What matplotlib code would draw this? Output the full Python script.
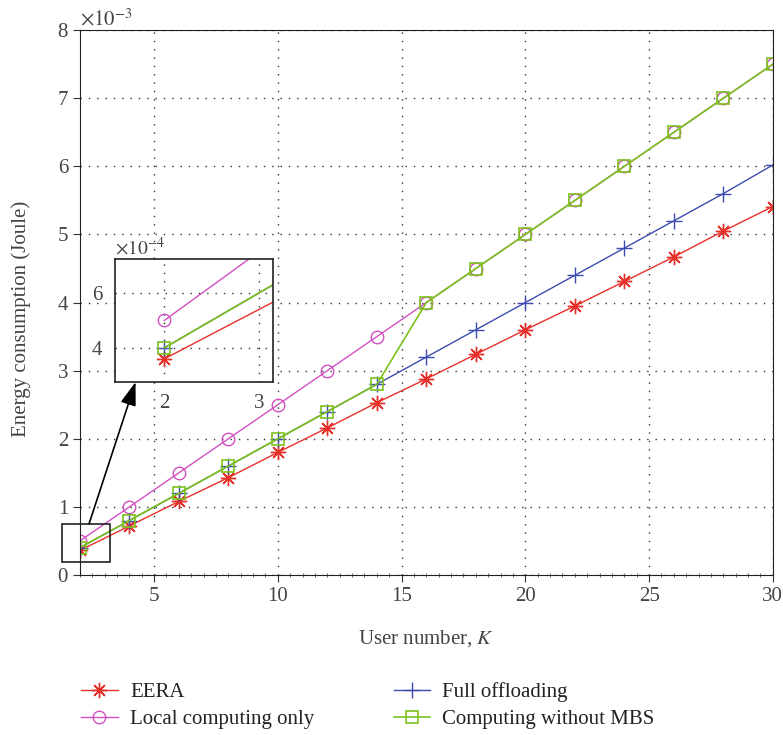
import numpy as np
import matplotlib.pyplot as plt
from matplotlib.patches import Rectangle, ConnectionPatch
from matplotlib.ticker import MultipleLocator

plt.rcParams['font.family'] = ['Liberation Serif', 'DejaVu Serif']
plt.rcParams['mathtext.fontset'] = 'stix'

K = [2, 4, 6, 8, 10, 12, 14, 16, 18, 20, 22, 24, 26, 28, 30]
eera = [0.36, 0.72, 1.08, 1.43, 1.80, 2.16, 2.53, 2.88, 3.24, 3.60, 3.95, 4.31, 4.67, 5.05, 5.41]
local = [0.50, 1.00, 1.50, 2.00, 2.50, 3.00, 3.50, 4.00, 4.50, 5.00, 5.50, 6.00, 6.50, 7.00, 7.50]
full = [0.40, 0.80, 1.20, 1.60, 2.00, 2.40, 2.80, 3.20, 3.60, 4.00, 4.40, 4.80, 5.20, 5.60, 6.02]
nombs = [0.40, 0.80, 1.20, 1.60, 2.00, 2.40, 2.80, 4.00, 4.50, 5.00, 5.50, 6.00, 6.50, 7.00, 7.50]
labels = ['EERA', 'Local computing only', 'Full offloading', 'Computing without MBS']

c_red = '#e8302a'
c_mag = '#d050c0'
c_blue = '#3c4cb0'
c_green = '#7cc21c'

asterisk = (8, 2, 0)

fig = plt.figure(figsize=(7.83, 7.35), dpi=100)
ax = fig.add_axes([0.102, 0.2177, 0.885, 0.7413])

def draw(a, scale):
    l1, = a.plot(K, [v * scale for v in eera], color=c_red, lw=1, marker=asterisk,
                 ms=11, mew=1, label=labels[0])
    l2, = a.plot(K, [v * scale for v in local], color=c_mag, lw=1, marker='o',
                 ms=9, mfc='none', mew=1, label=labels[1])
    l3, = a.plot(K, [v * scale for v in full], color=c_blue, lw=1, marker='+',
                 ms=12, mew=1, label=labels[2])
    l4, = a.plot(K, [v * scale for v in nombs], color=c_green, lw=1.2, marker='s',
                 ms=8, mfc='none', mew=1.2, label=labels[3])
    return [l1, l2, l3, l4]

lines = draw(ax, 1.0)
ax.set_xlim(2, 30)
ax.set_ylim(0, 8)
ax.xaxis.set_major_locator(MultipleLocator(5))
ax.xaxis.set_minor_locator(MultipleLocator(0.5))
ax.yaxis.set_major_locator(MultipleLocator(1))
ax.grid(True, which='major', linestyle=(0, (1, 5)), color='#333333', lw=1)
ax.tick_params(which='major', direction='out', length=5, labelsize=15, color='#333333', labelcolor='#444444')
ax.tick_params(which='minor', direction='inout', length=3, color='#555555')
for sp in ax.spines.values():
    sp.set_color('#222222')
ax.set_xlabel('User number, $K$', fontsize=15, color='#444444', labelpad=16)
ax.set_ylabel('Energy consumption (Joule)', fontsize=15, color='#444444')
ax.yaxis.set_label_coords(-0.07, 0.47)
ax.text(0.0, 1.0, r'$\times 10^{-3}$', transform=ax.transAxes, fontsize=15, color='#444444', va='bottom', ha='left')

# zoom box in main axes
rect = Rectangle((1.27, 0.19), 1.94, 0.56, fill=False, ec='#222222', lw=1.2, clip_on=False, zorder=5)
ax.add_patch(rect)

# inset
axin = fig.add_axes([0.1469, 0.4803, 0.2018, 0.1673])
draw(axin, 10.0)
axin.set_xlim(1.48, 3.15)
axin.set_ylim(2.76, 7.24)
axin.set_xticks([2, 3])
axin.set_yticks([4, 6])
axin.grid(True, linestyle=(0, (1, 5)), color='#333333', lw=1)
axin.tick_params(direction='in', length=0, pad=9, labelsize=15, color='#333333', labelcolor='#444444')
for sp in axin.spines.values():
    sp.set_color('#222222')
    sp.set_linewidth(1.2)
axin.text(0.0, 1.0, r'$\times 10^{-4}$', transform=axin.transAxes, fontsize=14, color='#444444', va='bottom', ha='left')

arrow = ConnectionPatch(xyA=(2.37, 0.75), coordsA=ax.transData,
                        xyB=(0.13, 0.0), coordsB=axin.transAxes,
                        arrowstyle='-|>,head_length=1.2,head_width=0.4', color='black', lw=1.2,
                        mutation_scale=12)
fig.add_artist(arrow)

fig.legend(handles=lines, labels=labels, loc='upper left', bbox_to_anchor=(0.093, 0.083),
           borderaxespad=0, ncol=2, frameon=False, fontsize=15, columnspacing=3.8,
           handlelength=1.75, handletextpad=0.6, labelspacing=0.35, labelcolor='#222222')

fig.savefig('out.png', dpi=100)
